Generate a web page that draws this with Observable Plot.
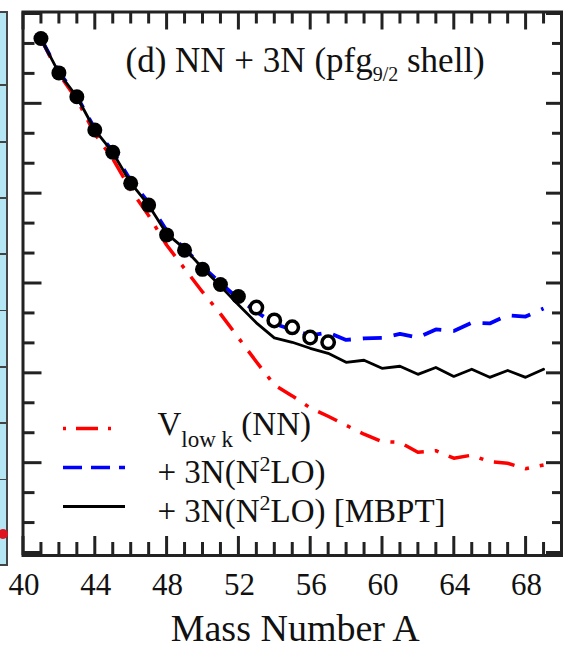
<!DOCTYPE html>
<html><head><meta charset="utf-8">
<script src="https://cdn.jsdelivr.net/npm/d3@7"></script>
<script src="https://cdn.jsdelivr.net/npm/@observablehq/plot@0.6"></script>
<style>
html,body{margin:0;padding:0;background:#fff;}
#wrap{position:relative;width:564px;height:652px;overflow:hidden;}
#wrap svg{position:absolute;left:0;top:0;}
#strip{position:absolute;left:0;top:11px;width:6px;height:551px;background-color:#b5e6f3;
 background-image:repeating-linear-gradient(to bottom,transparent 0 54.5px,#444 54.5px 56.3px);
 background-position:0 17px;border-top:2px solid #444;border-right:2px solid #444;border-bottom:2px solid #444;}
#strip .dot{position:absolute;left:-2px;top:516px;width:10px;height:10px;border-radius:50%;background:#e0141e;}
</style></head><body>
<div id="wrap"><div id="strip"><div class="dot"></div></div></div>
<script>
// ---- data (energies relative to 40Ca, MeV) ----
const massCalc = [41,42,43,44,45,46,47,48,49,50,51,52,53,54,55,56,57,58,59,60,61,62,63,64,65,66,67,68,69];
const vlowkNN = [-8.4,-20.2,-28.7,-40.2,-48.5,-58.8,-67.5,-77.3,-85.2,-93.0,-100.3,-108.3,-116.3,-124.0,-127.7,-131.7,-134.5,-137.5,-140.5,-143.0,-143.2,-146.5,-146.0,-148.5,-147.5,-149.7,-150.2,-152.0,-150.8];
const plus3N = [-8.4,-19.6,-27.6,-38.5,-46.0,-55.8,-63.2,-72.5,-78.6,-84.5,-90.0,-95.3,-99.6,-103.6,-105.6,-107.5,-106.5,-109.0,-108.5,-108.3,-107.0,-108.2,-105.5,-106.0,-103.3,-103.5,-100.8,-101.2,-98.5];
const plus3NMBPT = [-8.4,-19.8,-27.8,-38.9,-46.4,-56.6,-64.0,-73.5,-78.5,-85.0,-91.0,-97.3,-103.3,-108.3,-109.8,-111.8,-113.5,-116.5,-115.8,-118.5,-117.8,-120.5,-118.2,-121.2,-118.8,-121.5,-119.2,-121.5,-118.8];
const massExp = [41,42,43,44,45,46,47,48,49,50,51,52];
const energyExp = [-8.36,-19.84,-27.78,-38.91,-46.32,-56.72,-63.99,-73.94,-79.08,-85.44,-90.5,-94.5];
const massExtrap = [53,54,55,56,57];
const energyExtrap = [-98.2,-102.5,-104.8,-108.2,-109.8];
const xTickValues = [40,44,48,52,56,60,64,68];
const xTickLabels = ["40","44","48","52","56","60","64","68"];
const xLabel = "Mass Number A";
const titleText = "(d) NN + 3N (pfg9/2 shell)";
const legendLabels = ["Vlow k (NN)", "+ 3N(N2LO)", "+ 3N(N2LO) [MBPT]"];
const legendColors = ["#ff0000", "#0000ff", "#000000"];
const legendDash = ["3 10 22 10", "19 9", "none"];

// ---- layout ----
const W = 564, H = 652;
const mL = 22.5, mR = 3, mT = 11.5, mB = 97;
const xDom = [40, 70], yDom = [-181, 0.5];
const kx = (W - mL - mR) / (xDom[1] - xDom[0]);
const ky = (H - mT - mB) / (yDom[1] - yDom[0]);
const FONT = "Liberation Serif, Times New Roman, serif";
const INK = "#222";

const rows = (xs, ys) => xs.map((x, i) => ({x, y: ys[i]}));
const xAll = d3.range(xDom[0], xDom[1] + 1);
const yAll = d3.range(-180, 1, 10);
const isMajX = d => d % 4 === 0;
const isMajY = d => d % 30 === 0;

// legend geometry (pixels -> data units)
const pxX = p => xDom[0] + (p - mL) / kx;
const pxY = p => yDom[1] - (p - mT) / ky;
const legendRowsPx = [428, 467, 506];
const legendBasePx = [434, 482, 521];
const legendRows = legendLabels.map((l, i) => ({
  label: l, color: legendColors[i], dash: legendDash[i],
  y: pxY(legendRowsPx[i]), x1: pxX(63), x2: pxX(i === 0 ? 117 : 125),
  ty: pxY(legendBasePx[i]), tx: pxX(157)
}));
const legendMarks = legendRows.flatMap(r => [
  Plot.ruleY([r], {y: "y", x1: "x1", x2: "x2", stroke: r.color, strokeWidth: r.color === "#000000" ? 3 : 3.5, strokeDasharray: r.dash}),
  Plot.text([r], {x: "tx", y: "ty", text: "label", lineAnchor: "bottom", textAnchor: "start", fontSize: 33, fill: "#111"})
]);

const plot = Plot.plot({
  width: W, height: H,
  marginLeft: mL, marginRight: mR, marginTop: mT, marginBottom: mB,
  x: {domain: xDom, axis: null},
  y: {domain: yDom, axis: null},
  style: {fontFamily: FONT, background: "transparent"},
  marks: [
    // curves
    Plot.line(rows(massCalc, vlowkNN), {x: "x", y: "y", stroke: "#ff0000", strokeWidth: 3.5, strokeDasharray: "21 11 4 11", strokeLinecap: "butt"}),
    Plot.line(rows(massCalc, plus3N), {x: "x", y: "y", stroke: "#0000ff", strokeWidth: 3.8, strokeDasharray: "19 12", strokeLinecap: "butt"}),
    Plot.line(rows(massCalc, plus3NMBPT), {x: "x", y: "y", stroke: "#000", strokeWidth: 2.8}),
    // experiment
    Plot.dot(rows(massExp, energyExp), {x: "x", y: "y", r: 7.5, fill: "#000"}),
    Plot.dot(rows(massExtrap, energyExtrap), {x: "x", y: "y", r: 6.2, fill: "#fff", stroke: "#000", strokeWidth: 3.5}),
    // ticks
    Plot.ruleX(xAll, {x: d => d, y1: yDom[0], y2: d => yDom[0] + (isMajX(d) ? 19 : 13) / ky, stroke: INK, strokeWidth: 3}),
    Plot.ruleX(xAll, {x: d => d, y1: yDom[1], y2: d => yDom[1] - (isMajX(d) ? 18 : 12) / ky, stroke: INK, strokeWidth: 3}),
    Plot.ruleY(yAll, {y: d => d, x1: xDom[0], x2: d => xDom[0] + (isMajY(d) ? 19 : 12) / kx, stroke: INK, strokeWidth: 3}),
    Plot.ruleY(yAll, {y: d => d, x1: xDom[1], x2: d => xDom[1] - (isMajY(d) ? 15 : 9) / kx, stroke: INK, strokeWidth: 3}),
    Plot.frame({stroke: INK, strokeWidth: 3}),
    // tick labels
    Plot.text(xTickValues, {x: d => d, y: yDom[0], dy: 30, dx: 1, text: (d, i) => xTickLabels[i], fontSize: 31, fill: "#111"}),
    // axis label
    Plot.text([xLabel], {frameAnchor: "bottom", dy: 85, dx: 3, lineAnchor: "bottom", fontSize: 38, fill: "#111"}),
    // title
    Plot.text([titleText], {frameAnchor: "top-left", dx: 102.5, dy: 59.5, lineAnchor: "bottom", textAnchor: "start", fontSize: 35, fill: "#111"}),
    // legend
    ...legendMarks
  ]
});

// rich text (sub/superscripts)
function rich(svg, key, parts) {
  d3.select(svg).selectAll("text").filter(function () { return this.textContent === key; }).each(function () {
    const t = d3.select(this); t.text(null);
    let shift = 0;
    for (const p of parts) {
      const ts = t.append("tspan").text(p.t);
      const target = p.dy || 0;
      if (target !== shift) { ts.attr("dy", target - shift); shift = target; }
      if (p.size) ts.attr("font-size", p.size);
      if (p.dx) ts.attr("dx", p.dx);
    }
  });
}
rich(plot, titleText, [{t: "(d) NN + 3N (pfg"}, {t: "9/2", dy: 9, size: 20}, {t: " shell)"}]);
rich(plot, legendLabels[0], [{t: "V"}, {t: "low k", dy: 12, size: 23}, {t: " (NN)"}]);
rich(plot, legendLabels[1], [{t: "+ 3N(N"}, {t: "2", dy: -12, size: 22}, {t: "LO)"}]);
rich(plot, legendLabels[2], [{t: "+ 3N(N"}, {t: "2", dy: -12, size: 22}, {t: "LO) [MBPT]"}]);

document.getElementById("wrap").appendChild(plot);
</script></body></html>
